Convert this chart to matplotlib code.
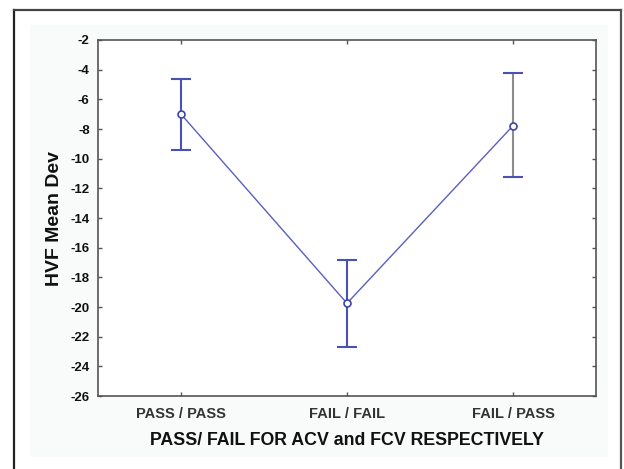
import matplotlib
matplotlib.use('Agg')
import matplotlib.pyplot as plt
from matplotlib.patches import Rectangle

plt.rcParams['font.family'] = ['Liberation Sans', 'DejaVu Sans']

groups = ['PASS / PASS', 'FAIL / FAIL', 'FAIL / PASS']
means = [-7.0, -19.75, -7.78]
upper = [-4.65, -16.83, -4.25]
lower = [-9.42, -22.67, -11.21]
yticks = list(range(-26, -1, 2))

err_lo = [m - lo for m, lo in zip(means, lower)]
err_hi = [hi - m for m, hi in zip(means, upper)]
xs = list(range(len(groups)))

fig = plt.figure(figsize=(6.24, 4.69), dpi=100)
fig.patch.set_facecolor('white')

# outer frame and light panel
fig.add_artist(Rectangle((30 / 624, 12 / 469), 578 / 624, 432 / 469, transform=fig.transFigure,
                         facecolor='#f9fbfb', edgecolor='none', zorder=0))
fig.add_artist(plt.Line2D([14 / 624, 14 / 624], [0, 1 - 10 / 469], transform=fig.transFigure,
                          color='#222222', lw=1.6))
fig.add_artist(plt.Line2D([14 / 624, 621 / 624], [1 - 10 / 469, 1 - 10 / 469], transform=fig.transFigure,
                          color='#444444', lw=1.6))
fig.add_artist(plt.Line2D([621 / 624, 621 / 624], [0, 1 - 10 / 469], transform=fig.transFigure,
                          color='#555555', lw=1.6))

ax = fig.add_axes([98 / 624, 1 - 396 / 469, 498 / 624, 356 / 469])
ax.set_facecolor('white')

ecolors = ['#4a50b4', '#4a50b4', '#8c8c8c']
for i in xs:
    ax.errorbar(xs[i], means[i], yerr=[[err_lo[i]], [err_hi[i]]], fmt='none',
                ecolor=ecolors[i], elinewidth=1.5, capsize=0, zorder=2)
    # caps in blue
    ax.errorbar(xs[i], means[i], yerr=[[err_lo[i]], [err_hi[i]]], fmt='none',
                ecolor='#4a50b4', elinewidth=0, capsize=7, capthick=1.5, zorder=2)

ax.plot(xs, means, color='#5b5fbf', lw=1.0, marker='o', markersize=5,
        markerfacecolor='white', markeredgecolor='#3f45a8', markeredgewidth=1.2, zorder=3)

ax.set_xlim(-0.5, 2.5)
ax.set_ylim(-26, -2)
ax.set_yticks(yticks)
ax.set_yticklabels([str(t) for t in yticks])
ax.set_xticks(xs)
ax.set_xticklabels(groups)

ax.tick_params(axis='y', direction='in', length=3, width=1, color='#555555', right=True,
               labelsize=9.5, pad=6, labelcolor='#111111')
ax.tick_params(axis='x', direction='in', length=3, width=1, color='#555555', top=True,
               labelsize=10.5, pad=8, labelcolor='#333333')
for lab in ax.get_yticklabels() + ax.get_xticklabels():
    lab.set_fontweight('bold')

for s in ax.spines.values():
    s.set_color('#555555')
    s.set_linewidth(1.2)

ax.set_ylabel('HVF Mean Dev', fontsize=14, fontweight='bold', labelpad=5, color='#111111')
ax.set_xlabel('PASS/ FAIL FOR ACV and FCV RESPECTIVELY', fontsize=12.8, fontweight='bold',
              labelpad=8, color='#111111')

fig.savefig('out.png', dpi=100, facecolor=fig.get_facecolor())
